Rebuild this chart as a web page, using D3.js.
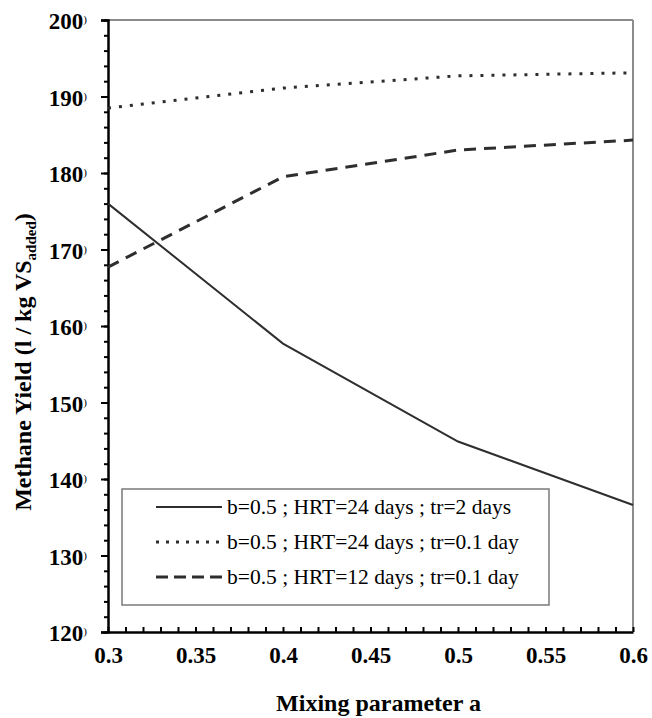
<!DOCTYPE html>
<html>
<head>
<meta charset="utf-8">
<script src="https://cdn.jsdelivr.net/npm/d3@7"></script>
<style>
  html, body { margin: 0; padding: 0; background: #fff; }
  svg { display: block; }
</style>
</head>
<body>
<svg id="chart" width="652" height="718"></svg>
<script>
// Mixing parameter a (x) and methane yield per series (l / kg VS added)
const mixingA = [0.3, 0.4, 0.5, 0.6];
const yieldHrt24Tr2 = [176.0, 157.7, 144.9, 136.6];
const yieldHrt24Tr01 = [188.5, 191.1, 192.7, 193.1];
const yieldHrt12Tr01 = [167.7, 179.5, 183.0, 184.3];
const seriesLabels = [
  "b=0.5 ; HRT=24 days ; tr=2 days",
  "b=0.5 ; HRT=24 days ; tr=0.1 day",
  "b=0.5 ; HRT=12 days ; tr=0.1 day"
];
const xTickValues = [0.3, 0.35, 0.4, 0.45, 0.5, 0.55, 0.6];
const yTickValues = [120, 130, 140, 150, 160, 170, 180, 190, 200];

const FONT = '"Liberation Serif"';
const svg = d3.select("#chart");
const plot = { left: 108, right: 633, top: 20, bottom: 632 };

const x = d3.scaleLinear().domain([0.3, 0.6]).range([plot.left, plot.right]);
const y = d3.scaleLinear().domain([120, 200]).range([plot.bottom, plot.top]);

const lineColor = "#2e2e2e";

// Frame: grey top and right edges
svg.append("line").attr("x1", plot.left).attr("x2", plot.right)
  .attr("y1", plot.top).attr("y2", plot.top)
  .attr("stroke", "#8c8c8c").attr("stroke-width", 2);
svg.append("line").attr("x1", plot.right).attr("x2", plot.right)
  .attr("y1", plot.top).attr("y2", plot.bottom)
  .attr("stroke", "#8c8c8c").attr("stroke-width", 2);

// Y axis: major ticks every 10, minor every 2, pointing outward
const yAxisMinor = d3.axisLeft(y).tickValues(d3.range(120, 201, 2)).tickSize(4).tickFormat("");
svg.append("g").attr("transform", `translate(${plot.left},0)`).call(yAxisMinor)
  .call(g => g.select(".domain").remove())
  .call(g => g.selectAll(".tick line").attr("stroke", "#000").attr("stroke-width", 2));
const yAxis = d3.axisLeft(y).tickValues(yTickValues).tickSize(7).tickFormat("");
svg.append("g").attr("transform", `translate(${plot.left},0)`).call(yAxis)
  .call(g => g.select(".domain").attr("stroke", "#000").attr("stroke-width", 2.5))
  .call(g => g.selectAll(".tick line").attr("stroke", "#000").attr("stroke-width", 2));

// Y tick labels
const yLabels = svg.append("g");
yTickValues.forEach(v => {
  const t = yLabels.append("text")
    .attr("x", 87).attr("y", y(v) + 9)
    .attr("text-anchor", "end")
    .style("font-family", FONT)
    .style("font-size", "23px").style("font-weight", "bold");
  t.append("tspan").text(v);
  t.append("tspan").text(")").attr("dy", -6)
    .style("font-size", "11px").style("font-weight", "normal");
});

// X axis: major ticks every 0.05, minor every 0.01, pointing inward
const xAxisMinor = d3.axisTop(x).tickValues(d3.range(30, 61, 1).map(d => d / 100)).tickSize(5).tickFormat("");
svg.append("g").attr("transform", `translate(0,${plot.bottom})`).call(xAxisMinor)
  .call(g => g.select(".domain").remove())
  .call(g => g.selectAll(".tick line").attr("stroke", "#000").attr("stroke-width", 2));
const xAxis = d3.axisBottom(x).tickValues(xTickValues).tickSize(0).tickPadding(0)
  .tickFormat(d => String(+d.toFixed(2)));
svg.append("g").attr("transform", `translate(0,${plot.bottom})`).call(xAxis)
  .attr("font-family", null).attr("font-size", null)
  .call(g => g.select(".domain").attr("stroke", "#000").attr("stroke-width", 2.5))
  .call(g => g.selectAll(".tick text")
    .attr("y", 31).attr("dy", null)
    .style("font-family", FONT)
    .style("font-size", "23px").style("font-weight", "bold")
    .attr("fill", "#000"));

// Axis titles
svg.append("text")
  .attr("x", (plot.left + plot.right) / 2 + 8).attr("y", 711)
  .attr("text-anchor", "middle")
  .style("font-family", FONT)
  .style("font-size", "24px").style("font-weight", "bold")
  .text("Mixing parameter a");

const yTitle = svg.append("text")
  .attr("transform", "translate(31,362) rotate(-90)")
  .attr("text-anchor", "middle")
  .style("font-family", FONT)
  .style("font-size", "24px").style("font-weight", "bold");
yTitle.append("tspan").text("Methane Yield (l / kg VS");
yTitle.append("tspan").text("added").attr("dy", 5).style("font-size", "15px");
yTitle.append("tspan").text(")").attr("dy", -5);

// Series lines
const series = [
  { values: yieldHrt24Tr2, dash: null, width: 2 },
  { values: yieldHrt24Tr01, dash: "3,8", width: 3 },
  { values: yieldHrt12Tr01, dash: "12,8", width: 3 }
];
const line = d3.line().x(d => x(d[0])).y(d => y(d[1]));
series.forEach(s => {
  svg.append("path")
    .datum(mixingA.map((a, i) => [a, s.values[i]]))
    .attr("d", line)
    .attr("fill", "none")
    .attr("stroke", lineColor)
    .attr("stroke-width", s.width)
    .attr("stroke-dasharray", s.dash);
});

// Legend
const legend = svg.append("g");
legend.append("rect")
  .attr("x", 122).attr("y", 489).attr("width", 427).attr("height", 116)
  .attr("fill", "#fff").attr("stroke", "#7a7a7a").attr("stroke-width", 1.5);
const rowY = [507, 542, 577];
const legendDash = [null, "3,7", "12,6"];
series.forEach((s, i) => {
  legend.append("line")
    .attr("x1", 156).attr("x2", 222).attr("y1", rowY[i]).attr("y2", rowY[i])
    .attr("stroke", lineColor).attr("stroke-width", s.width)
    .attr("stroke-dasharray", legendDash[i]);
  legend.append("text")
    .attr("x", 227).attr("y", rowY[i] + 7)
    .style("font-family", FONT)
    .style("font-size", "21.5px")
    .text(seriesLabels[i]);
});
</script>
</body>
</html>
